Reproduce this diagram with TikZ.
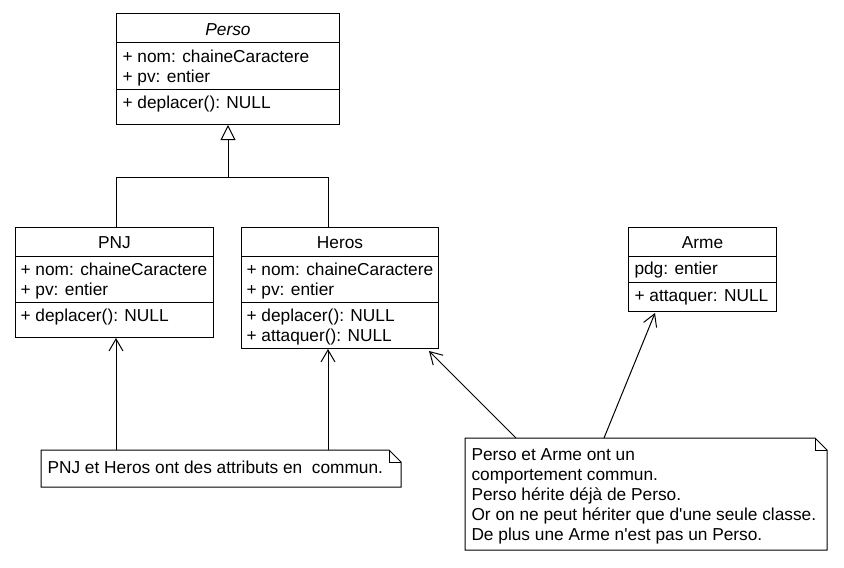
\documentclass[tikz,border=0pt]{standalone}
\usepackage{fontspec}
\setmainfont{Liberation Sans}[Ligatures=TeXOff]
\usetikzlibrary{arrows.meta,calc}
\begin{document}
\begin{tikzpicture}[x=1pt,y=-1pt,line width=1pt,
  every node/.style={font=\fontsize{17.3pt}{20pt}\selectfont,inner sep=0pt},
  classbox/.style={draw,anchor=north west,minimum width=#1},
  txt/.style={anchor=base west},
  ttl/.style={anchor=base},
  assoc/.style={-{Straight Barb[length=12pt,width=14pt]}},
  inherit/.style={-{Triangle[open,length=15pt,width=15pt,fill=white]}}]
\useasboundingbox (0,0) rectangle (844,568);

% Perso
\node[classbox=223,minimum height=111] (perso) at (116,13) {};
\draw ($(perso.north west)+(0,29)$) -- ($(perso.north east)+(0,29)$);
\draw ($(perso.north west)+(0,76)$) -- ($(perso.north east)+(0,76)$);
\node[ttl] (pt) at ($(perso.north)+(0,22)$) {\itshape Perso};
\node[txt] (pa1) at ($(perso.north west)+(6,49)$) {+ nom: chaineCaractere};
\node[txt] (pa2) at ($(perso.north west)+(6,69)$) {+ pv: entier};
\node[txt] (pm1) at ($(perso.north west)+(6,95)$) {+ deplacer(): NULL};

% PNJ
\node[classbox=198,minimum height=110] (pnj) at (15,227) {};
\draw ($(pnj.north west)+(0,29)$) -- ($(pnj.north east)+(0,29)$);
\draw ($(pnj.north west)+(0,75)$) -- ($(pnj.north east)+(0,75)$);
\node[ttl] (jt) at ($(pnj.north)+(0,21)$) {PNJ};
\node[txt] (ja1) at ($(pnj.north west)+(5,48)$) {+ nom: chaineCaractere};
\node[txt] (ja2) at ($(pnj.north west)+(5,68)$) {+ pv: entier};
\node[txt] (jm1) at ($(pnj.north west)+(5,94)$) {+ deplacer(): NULL};

% Heros
\node[classbox=197,minimum height=121] (heros) at (241,227) {};
\draw ($(heros.north west)+(0,29)$) -- ($(heros.north east)+(0,29)$);
\draw ($(heros.north west)+(0,75)$) -- ($(heros.north east)+(0,75)$);
\node[ttl] (ht) at ($(heros.north)+(0,21)$) {Heros};
\node[txt] (ha1) at ($(heros.north west)+(5,48)$) {+ nom: chaineCaractere};
\node[txt] (ha2) at ($(heros.north west)+(5,68)$) {+ pv: entier};
\node[txt] (hm1) at ($(heros.north west)+(5,94)$) {+ deplacer(): NULL};
\node[txt] (hm2) at ($(heros.north west)+(5,114)$) {+ attaquer(): NULL};

% Arme
\node[classbox=148,minimum height=84] (arme) at (628,227) {};
\draw ($(arme.north west)+(0,29)$) -- ($(arme.north east)+(0,29)$);
\draw ($(arme.north west)+(0,55)$) -- ($(arme.north east)+(0,55)$);
\node[ttl] (at) at ($(arme.north)+(0,21)$) {Arme};
\node[txt] (aa1) at ($(arme.north west)+(6,47)$) {pdg: entier};
\node[txt] (am1) at ($(arme.north west)+(6,74)$) {+ attaquer: NULL};

% Note 1
\node[anchor=north west,minimum width=359,minimum height=36] (note1) at (41,450) {};
\draw (note1.north west) -- ($(note1.north east)+(-12,0)$) -- ($(note1.north east)+(0,12)$)
  -- (note1.south east) -- (note1.south west) -- cycle;
\draw ($(note1.north east)+(-12,0)$) -- ($(note1.north east)+(-12,12)$) -- ($(note1.north east)+(0,12)$);
\node[txt] (n1t) at ($(note1.north west)+(6,23)$) {PNJ et Heros ont des attributs en~ commun.};

% Note 2
\node[anchor=north west,minimum width=361,minimum height=111] (note2) at (465,438) {};
\draw (note2.north west) -- ($(note2.north east)+(-12,0)$) -- ($(note2.north east)+(0,12)$)
  -- (note2.south east) -- (note2.south west) -- cycle;
\draw ($(note2.north east)+(-12,0)$) -- ($(note2.north east)+(-12,12)$) -- ($(note2.north east)+(0,12)$);
\node[txt] (n2a) at ($(note2.north west)+(6,22)$) {Perso et Arme ont un};
\node[txt] (n2b) at ($(note2.north west)+(6,42)$) {comportement commun.};
\node[txt] (n2c) at ($(note2.north west)+(6,62)$) {Perso hérite déjà de Perso.};
\node[txt] (n2d) at ($(note2.north west)+(6,82)$) {Or on ne peut hériter que d'une seule classe.};
\node[txt] (n2e) at ($(note2.north west)+(6,102)$) {De plus une Arme n'est pas un Perso.};

% Inheritance
\coordinate (junc) at ($(perso.south)+(0,52)$);
\draw[inherit] ($(pnj.north west)+(101,0)$) |- (junc) -- (perso.south);
\draw ($(heros.north west)+(87,0)$) |- (junc);

% Note connectors
\draw[assoc] ($(note1.north west)+(75,0)$) -- ($(pnj.south west)+(101,0)$);
\draw[assoc] ($(note1.north west)+(287,0)$) -- ($(heros.south west)+(87,0)$);
\draw[assoc] ($(note2.north west)+(51,0)$) -- ($(heros.south east)+(-10,2)$);
\draw[assoc] ($(note2.north west)+(139,0)$) -- ($(arme.south west)+(27,1)$);
\end{tikzpicture}
\end{document}
